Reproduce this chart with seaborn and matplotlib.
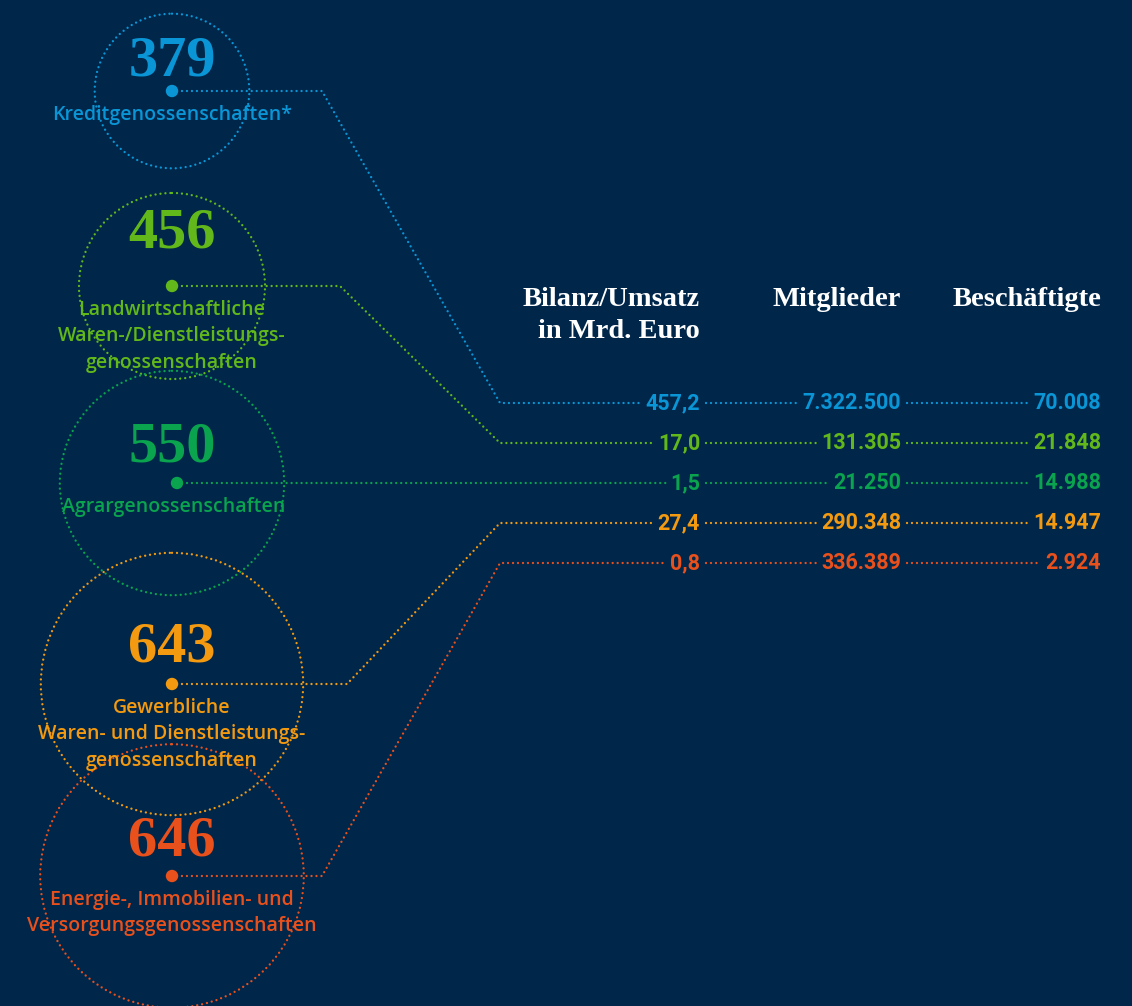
import numpy as np
import pandas as pd
import seaborn as sns
import matplotlib.pyplot as plt
from matplotlib.patches import Circle

# chart data
counts = [379, 456, 550, 643, 646]
labels = ["Kreditgenossenschaften*",
          "Landwirtschaftliche\nWaren-/Dienstleistungs-\ngenossenschaften",
          "Agrargenossenschaften",
          "Gewerbliche\nWaren- und Dienstleistungs-\ngenossenschaften",
          "Energie-, Immobilien- und\nVersorgungsgenossenschaften"]
bilanz = [457.2, 17.0, 1.5, 27.4, 0.8]
mitglieder = [7322500, 131305, 21250, 290348, 336389]
beschaeftigte = [70008, 21848, 14988, 14947, 2924]
headers = ["Bilanz/Umsatz\nin Mrd. Euro", "Mitglieder", "Beschäftigte"]
colors = ["#0a96d6", "#62b81a", "#0aa34e", "#f39a10", "#e8501c"]

# layout (pixel-like coordinates)
bg = "#00264a"
cx = [172, 172, 172, 172, 172]
dot_x = [172, 172, 177, 172, 172]
cy = [91, 286, 483, 684, 876]
num_base = [-16, -39, -21, -22, -21]   # number baseline relative to dot
elbow_x = [322, 340, None, 347, 322]
row_y = [403, 443, 483, 523, 563]
col_x = [700, 901, 1101]
table_left = 500
px_per_unit = 0.204

def de_dec(v):
    return f"{v:.1f}".replace(".", ",")

def de_int(v):
    return f"{v:,}".replace(",", ".")

df = pd.DataFrame({"x": dot_x, "y": cy, "count": counts, "color": colors})

sns.set_style("white")
fig = plt.figure(figsize=(11.32, 10.06), dpi=100, facecolor=bg)
ax = fig.add_axes([0, 0, 1, 1])
ax.set_facecolor(bg)
ax.set_xlim(0, 1132)
ax.set_ylim(1006, 0)
ax.axis("off")

dots = dict(linestyle=(0, (0.01, 2.1)), linewidth=1.7)

# circles sized by count
for i in range(5):
    ax.add_patch(Circle((cx[i], cy[i]), counts[i] * px_per_unit, fill=False,
                        edgecolor=colors[i], capstyle="round", zorder=1, **dots))

sns.scatterplot(data=df, x="x", y="y", hue="color",
                palette=dict(zip(colors, colors)), s=80,
                edgecolor="none", legend=False, zorder=4, ax=ax)

for i in range(5):
    ax.text(cx[i], cy[i] + num_base[i], str(counts[i]), color=colors[i], fontsize=42,
            family="Liberation Serif", fontweight="bold", ha="center", va="baseline", zorder=5)
    ax.text(cx[i] + (2 if i == 2 else 0), cy[i] + 14, labels[i], color=colors[i],
            fontsize=14, family="Open Sans", fontweight="semibold", ha="center",
            va="top", linespacing=1.42, zorder=5)

# headers
for j, h in enumerate(headers):
    ax.text(col_x[j], 287, h, color="white", fontsize=20.5, family="Liberation Serif",
            fontweight="bold", ha="right", va="top", linespacing=1.38)

# table values
fig.canvas.draw()
rend = fig.canvas.get_renderer()
inv = ax.transData.inverted()
for i in range(5):
    vals = [de_dec(bilanz[i]), de_int(mitglieder[i]), de_int(beschaeftigte[i])]
    lefts = []
    for j, v in enumerate(vals):
        t = ax.text(col_x[j], row_y[i], v, color=colors[i], fontsize=15.5,
                    family="Roboto", fontweight="bold", ha="right", va="center")
        bb = t.get_window_extent(rend)
        lefts.append(inv.transform((bb.x0, bb.y0))[0])
    # connector from circle to first column
    if elbow_x[i] is None:
        xs = [dot_x[i], lefts[0] - 4]
        ys = [cy[i], row_y[i]]
    else:
        xs = [dot_x[i], elbow_x[i], table_left, lefts[0] - 4]
        ys = [cy[i], cy[i], row_y[i], row_y[i]]
    ax.plot(xs, ys, color=colors[i], dash_capstyle="round", zorder=3, **dots)
    # leaders between columns
    for j in range(1, 3):
        ax.plot([col_x[j - 1] + 6, lefts[j] - 5], [row_y[i], row_y[i]],
                color=colors[i], dash_capstyle="round", zorder=3, **dots)

fig.savefig("out.png", dpi=100, facecolor=bg)
